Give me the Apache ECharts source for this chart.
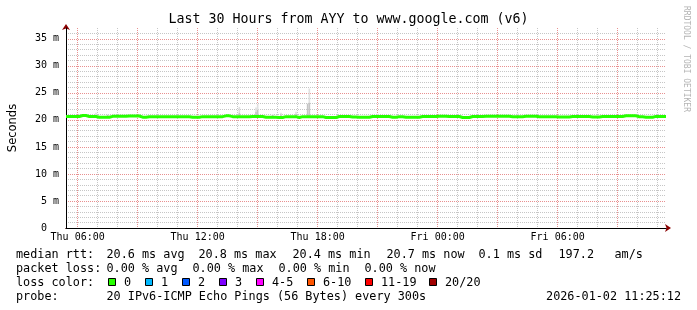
<!DOCTYPE html>
<html><head><meta charset="utf-8">
<script src="https://cdn.jsdelivr.net/npm/echarts@6/dist/echarts.min.js"></script>
<style>html,body{margin:0;padding:0;background:#fff}#c{width:697px;height:310px}</style>
</head><body><div id="c"></div>
<script>
// ---------- data ----------
const chartTitle = 'Last 30 Hours from AYY to www.google.com (v6)';
const yAxisName = 'Seconds';
const watermark = 'RRDTOOL / TOBI OETIKER';
const startMinute = 325;          // Thu 05:25
const stepMinutes = 5;            // one slot = 5 minutes
const slotCount = 361;            // 30 hours
const dayNames = ['Thu', 'Fri'];
const xTickLabels = ['Thu 06:00', 'Thu 12:00', 'Thu 18:00', 'Fri 00:00', 'Fri 06:00'];
const yMax = 37;
const yLabelMax = 35;
const yMajor = 5;
const medianSlotStep = 2;         // median sampled every 10 minutes
const medianRtt = [
  20.63,20.63,20.63,20.63,20.63,20.8,20.8,20.63,20.63,20.63,
  20.48,20.48,20.48,20.48,20.66,20.66,20.66,20.66,20.66,20.72,
  20.72,20.72,20.72,20.5,20.5,20.6,20.6,20.6,20.6,20.6,
  20.6,20.6,20.58,20.58,20.58,20.58,20.58,20.58,20.48,20.48,
  20.48,20.6,20.6,20.6,20.6,20.6,20.6,20.6,20.75,20.75,
  20.6,20.6,20.6,20.56,20.56,20.56,20.62,20.62,20.62,20.62,
  20.5,20.5,20.5,20.5,20.45,20.45,20.6,20.6,20.6,20.6,
  20.45,20.6,20.6,20.6,20.6,20.6,20.6,20.6,20.45,20.45,
  20.45,20.45,20.63,20.63,20.63,20.63,20.52,20.52,20.48,20.48,
  20.48,20.48,20.63,20.63,20.63,20.63,20.63,20.63,20.48,20.48,
  20.6,20.6,20.5,20.5,20.5,20.5,20.5,20.62,20.62,20.62,
  20.62,20.62,20.68,20.68,20.68,20.62,20.62,20.62,20.62,20.45,
  20.45,20.45,20.63,20.63,20.63,20.63,20.68,20.68,20.68,20.68,
  20.68,20.68,20.68,20.68,20.6,20.6,20.6,20.6,20.68,20.68,
  20.68,20.68,20.6,20.6,20.6,20.6,20.6,20.6,20.55,20.55,
  20.55,20.55,20.62,20.62,20.62,20.62,20.62,20.62,20.55,20.55,
  20.55,20.63,20.63,20.63,20.63,20.63,20.63,20.63,20.75,20.75,
  20.75,20.75,20.58,20.58,20.5,20.5,20.5,20.65,20.65,20.65,
  20.65
];
// smoke (ping spread) where it rises above the median line: [slot, low, mid, high]
const smokeSlots = [18, 25, 104, 114, 115, 124, 129, 138, 145, 146, 187, 271];
const smokeLow   = [20.7, 20.7, 20.7, 20.7, 20.7, 20.7, 20.7, 20.7, 20.7, 20.7, 20.7, 20.7];
const smokeMid   = [20.9, 20.9, 21.3, 21.5, 21.8, 20.9, 21.0, 21.1, 23.0, 23.2, 20.9, 20.9];
const smokeHigh  = [21.3, 21.0, 22.4, 22.3, 22.9, 21.1, 21.3, 21.5, 23.0, 25.8, 21.1, 21.2];
const lossLabels = ['0', '1', '2', '3', '4-5', '6-10', '11-19', '20/20'];
const lossColors = ['#26ff00', '#00b8ff', '#0059ff', '#7e00ff', '#ff00ff', '#ff5500', '#ff0000', '#a10000'];
const rttStats  = ['20.6 ms avg', '20.8 ms max', '20.4 ms min', '20.7 ms now', '0.1 ms sd', '197.2', 'am/s'];
const lossStats = ['0.00 % avg', '0.00 % max', '0.00 % min', '0.00 % now'];
const probeText = '20 IPv6-ICMP Echo Pings (56 Bytes) every 300s';
const stampText = '2026-01-02 11:25:12';

// ---------- build ----------
const pad = n => (n < 10 ? '0' : '') + n;
const categories = [];
for (let k = 0; k < slotCount; k++) {
  const m = startMinute + k * stepMinutes;
  const d = Math.floor(m / 1440), r = m % 1440;
  categories.push(dayNames[d] + ' ' + pad(Math.floor(r / 60)) + ':' + pad(r % 60));
}
const minuteOf = idx => startMinute + idx * stepMinutes;
const medianData = medianRtt.map((v, i) => [i * medianSlotStep, v]);
const smokeData = smokeSlots.map((s, i) => [s, smokeLow[i], smokeMid[i], smokeHigh[i]]);

const MONO = 'DejaVu Sans Mono';
const GREY = '#c6c6c6', RED = '#e89090', ARROW = '#8b0000', NONE = 'rgba(0,0,0,0)';
const xLineColors = [RED, GREY, GREY];
const yLineColors = [];
for (let v = 0; v <= yMax; v++) yLineColors.push(v > yLabelMax ? (v === yMax ? NONE : GREY) : (v % yMajor === 0 ? RED : GREY));

const txt = (x, y, text, extra) => ({
  type: 'text', x, y, silent: true,
  style: Object.assign({ text, font: '11.8px "' + MONO + '"', fill: '#000', verticalAlign: 'middle' }, extra || {})
});

const graphics = [];
graphics.push(txt(348.5, 20, chartTitle, { font: '13.3px "' + MONO + '"', align: 'center' }));
graphics.push({ type: 'text', x: 686, y: 59, rotation: -Math.PI / 2, silent: true,
  style: { text: watermark, font: '8px "' + MONO + '"', fill: '#b4b4b4', align: 'center', verticalAlign: 'middle' } });
const rttX = [106.5, 198.5, 292.5, 386.5, 478.5, 558.5, 614.5];
graphics.push(txt(16, 254.5, 'median rtt:'));
rttStats.forEach((s, i) => graphics.push(txt(rttX[i], 254.5, s)));
const lossX = [106.5, 192.5, 278.5, 364.5];
graphics.push(txt(16, 268.5, 'packet loss:'));
lossStats.forEach((s, i) => graphics.push(txt(lossX[i], 268.5, s)));
graphics.push(txt(16, 282.5, 'loss color:'));
const sqX = [108, 145, 182, 219, 256, 307, 365, 429];
lossLabels.forEach((l, i) => {
  graphics.push({ type: 'rect', silent: true, shape: { x: sqX[i] + 0.5, y: 278.5, width: 7, height: 7 },
    style: { fill: lossColors[i], stroke: '#000', lineWidth: 1 } });
  graphics.push(txt(sqX[i] + 16, 282.5, l));
});
graphics.push(txt(16, 296.5, 'probe:'));
graphics.push(txt(106.5, 296.5, probeText));
graphics.push(txt(681, 296.5, stampText, { align: 'right' }));

const chart = echarts.init(document.getElementById('c'), null, { renderer: 'canvas' });
chart.setOption({
  animation: false,
  backgroundColor: '#fff',
  grid: { left: 66, top: 28, width: 600, height: 200, containLabel: false, outerBoundsMode: 'none' },
  xAxis: [
    { type: 'category', data: categories, boundaryGap: false, z: 3,
      axisLine: { show: true, lineStyle: { color: '#000', width: 1 } },
      axisTick: { show: false },
      axisLabel: { interval: (i, v) => xTickLabels.includes(v), color: '#000', fontFamily: MONO, fontSize: 10, margin: 4 },
      splitLine: { show: true, interval: i => minuteOf(i) % 60 === 0, lineStyle: { color: xLineColors, width: 1, type: [1, 1] } } },
    { type: 'category', data: categories, boundaryGap: false, position: 'bottom', z: 1,
      axisLine: { show: true, symbol: ['none', 'arrow'], symbolSize: [6, 6], symbolOffset: [0, 5], lineStyle: { color: ARROW, width: 1 } },
      axisTick: { show: false }, axisLabel: { show: false }, splitLine: { show: false } }
  ],
  yAxis: [
    { type: 'value', min: 0, max: yMax, interval: 1, z: 3, position: 'left',
      name: yAxisName, nameLocation: 'middle', nameRotate: 90, nameGap: 47,
      nameTextStyle: { fontFamily: 'DejaVu Sans', fontSize: 11.5, color: '#000' },
      axisLine: { show: true, lineStyle: { color: '#000', width: 1 } },
      axisTick: { show: false },
      axisLabel: { color: '#000', fontFamily: MONO, fontSize: 10, margin: 7, hideOverlap: false,
        formatter: v => (v % yMajor !== 0 || v > yLabelMax) ? '' : (v === 0 ? '0  ' : v + ' m') },
      splitLine: { show: true, lineStyle: { color: yLineColors, width: 1, type: [1, 1] } } },
    { type: 'value', min: 0, max: yMax, interval: 1, z: 1, position: 'left', offset: 0,
      axisLine: { show: true, symbol: ['none', 'arrow'], symbolSize: [6, 6], symbolOffset: [0, 4], lineStyle: { color: ARROW, width: 1 } },
      axisTick: { show: false }, axisLabel: { show: false }, splitLine: { show: false } }
  ],
  series: [
    { type: 'custom', name: 'smoke', xAxisIndex: 0, yAxisIndex: 0, z: 4, silent: true,
      data: smokeData, encode: { x: 0, y: [1, 2, 3] },
      renderItem: (params, api) => {
        const x = api.value(0);
        const lo = api.coord([x, api.value(1)]);
        const mid = api.coord([x, api.value(2)]);
        const hi = api.coord([x, api.value(3)]);
        const w = api.size([1, 0])[0];
        return { type: 'group', children: [
          { type: 'rect', shape: { x: lo[0] - w / 2, y: hi[1], width: w, height: Math.max(0, mid[1] - hi[1]) }, style: { fill: '#e0e0e0' } },
          { type: 'rect', shape: { x: lo[0] - w / 2, y: mid[1], width: w, height: Math.max(0, lo[1] - mid[1]) }, style: { fill: '#c4c4c4' } }
        ] };
      } },
    { type: 'line', name: 'median rtt', xAxisIndex: 0, yAxisIndex: 0, z: 5, silent: true,
      data: medianData, step: 'middle', showSymbol: false, symbol: 'none',
      lineStyle: { color: lossColors[0], width: 3 } }
  ],
  graphic: graphics
});
</script></body></html>
